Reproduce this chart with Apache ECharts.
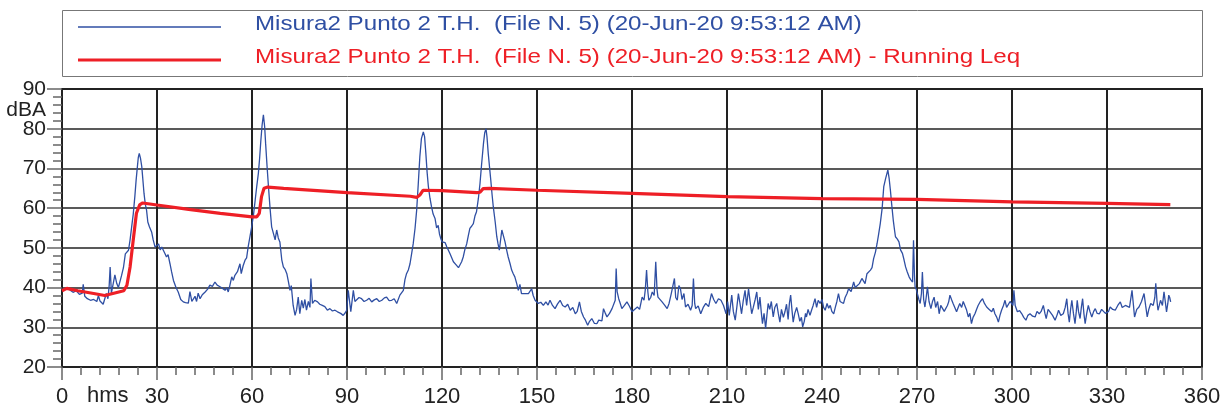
<!DOCTYPE html>
<html>
<head>
<meta charset="utf-8">
<script src="https://cdn.jsdelivr.net/npm/echarts@6/dist/echarts.min.js"></script>
<style>
  html, body { margin: 0; padding: 0; background: #ffffff; }
  #chart { width: 1227px; height: 415px; }
</style>
</head>
<body>
<div id="chart"></div>
<script>
// Series labels
const seriesNames = [
  'Misura2 Punto 2 T.H.  (File N. 5) (20-Jun-20 9:53:12 AM)',
  'Misura2 Punto 2 T.H.  (File N. 5) (20-Jun-20 9:53:12 AM) - Running Leq'
];

// Axis ranges / tick steps
const timeRange = [0, 360, 30];   // seconds: min, max, step
const levelRange = [20, 90, 10];  // dBA: min, max, step
const timeUnit = 'hms';
const levelUnit = 'dBA';

// Instantaneous sound level, [time s, dBA]
const levelTrace = [
  [0,39.5],[0.6,39.9],[1,39.8],[1.6,40.2],[2,40.0],[2.5,39.4],[3,39.3],[3.5,38.8],[4,38.6],[4.5,39.2],[5,38.9],[5.5,38.3],[6,38.0],[6.4,38.6],[6.7,40.8],[7.2,37.8],[7.6,38.2],[8,37.2],[8.5,37.6],[9,36.8],[9.5,37.3],[10,37.0],[10.5,36.7],[11,36.5],[11.5,38.0],[12,36.6],[12.5,36.2],[13,35.8],[13.6,36.3],[14,38.5],[14.5,37.2],[14.9,40.5],[15.2,45.2],[15.6,38.6],[16.2,39.0],[16.7,43.2],[17.3,41.0],[17.8,40.0],[18.3,39.5],[18.8,43.0],[19.4,45.0],
  [20,48.5],[20.5,48.0],[21,49.4],[21.5,52.0],[22,55.3],[22.5,58.5],[23,62.9],[23.4,67.0],[23.8,70.4],[24.1,72.8],[24.4,73.8],[24.8,72.5],[25.2,70.4],[25.9,63.7],[26.3,61.0],[26.7,59.5],[27.1,56.5],[27.6,55.3],[28.3,54.0],[28.8,52.0],[29.4,50.2],[29.9,49.8],[30.5,51.0],[31,49.5],[31.5,50.2],[32,49.8],[32.5,48.6],[33,47.7],[33.5,48.3],[34.1,46.0],[34.6,44.0],[35.2,41.8],[36,40.0],[36.7,38.9],[37.5,37.0],[38.3,36.4],[39,36.2],[39.9,36.1],[40.4,39.0],[41,36.5],[41.5,36.4],[42,37.8],[42.5,36.5],[43,38.6],[43.6,37.2],[44.3,38.2],[45.2,38.9],[46,39.6],[46.7,40.6],[47.5,40.3],[48.3,41.4],[49,40.6],[49.9,40.2],[50.7,39.8],[51.5,39.3],[52,40.0],[52.5,38.9],[53,40.5],[53.6,42.7],[54.1,41.8],[54.6,43.1],[55.4,44.0],[56.2,46.0],[56.6,43.5],[57.2,45.5],[57.8,46.9],[58.3,47.5],[58.8,50.3],[59.4,53.0],[59.9,55.3],
  [60.5,58.5],[61,62.0],[61.5,65.5],[62,68.7],[62.4,72.5],[62.8,77.1],[63.2,81.0],[63.6,83.5],[64,80.5],[64.3,76.3],[64.8,70.0],[65.2,65.4],[65.7,60.0],[66.2,55.3],[66.8,53.5],[67.3,52.0],[67.8,54.5],[68.3,52.5],[68.8,51.5],[69.4,47.0],[69.9,45.2],[70.5,44.5],[71,43.5],[71.5,41.5],[72,39.3],[72.4,40.5],[73,35.5],[73.6,33.0],[74.1,34.5],[74.6,37.6],[75.1,33.4],[75.7,36.8],[76.2,34.8],[76.7,37.0],[77.2,34.3],[77.8,36.5],[78.3,35.0],[78.6,42.3],[79.1,36.0],[79.8,36.8],[80.7,36.4],[81.4,35.8],[82.2,35.5],[83,35.2],[83.8,34.3],[84.6,34.7],[85.4,34.1],[86.2,34.3],[87,33.9],[88,33.5],[88.8,33.0],[89.4,33.6],[89.9,34.3],
  [90.4,39.3],[91.2,33.9],[92,39.3],[92.5,36.5],[93,36.0],[93.8,37.5],[94.6,37.2],[95.4,36.5],[96.2,36.8],[97,37.3],[97.8,36.4],[98.6,36.9],[99.4,37.2],[100.2,36.5],[101,36.8],[101.8,37.4],[102.5,37.6],[103.3,36.7],[104.1,36.8],[104.9,37.2],[105.7,36.0],[106.7,38.1],[107.8,39.3],[108.3,42.0],[108.8,43.5],[109.4,44.5],[109.9,46.0],[110.4,48.5],[110.9,51.0],[111.5,55.0],[112,59.5],[112.5,66.0],[113,72.9],[113.5,77.5],[114.1,79.2],[114.5,78.0],[114.9,73.8],[115.3,69.0],[115.7,65.4],[116.2,62.5],[116.7,60.3],[117.2,58.5],[117.8,57.4],[118.3,55.0],[118.8,55.7],[119.2,53.5],[119.6,52.4],
  [120,51.5],[120.4,51.0],[121,51.3],[121.5,50.3],[122.5,48.6],[123.6,46.5],[124.6,45.6],[125.2,45.0],[125.7,44.8],[126.2,46.5],[126.7,47.7],[127.2,49.5],[127.8,51.0],[128.3,53.0],[128.8,54.9],[129.4,55.5],[129.9,56.1],[130.4,58.0],[130.9,59.1],[131.5,62.5],[132,66.2],[132.5,71.0],[133.1,76.3],[133.5,79.0],[133.9,80.0],[134.2,78.0],[134.6,73.8],[135.4,67.1],[135.8,63.5],[136.2,60.3],[136.8,56.5],[137.3,52.8],[137.7,51.0],[138.1,49.4],[138.5,52.0],[138.9,54.5],[139.4,53.0],[139.9,51.5],[140.4,49.5],[140.9,47.7],[141.5,46.0],[142,44.4],[142.5,43.5],[143,42.7],[143.6,41.0],[144.1,39.3],[144.6,40.8],[145.1,38.5],[145.7,38.1],[146.5,38.5],[147.3,38.5],[147.8,38.0],[148.3,39.7],[148.8,38.0],[149.4,36.8],
  [150,37.2],[150.4,36.0],[151.2,36.3],[152,35.5],[152.8,36.4],[153.5,35.6],[154.1,36.8],[154.9,35.5],[155.7,34.7],[156.5,35.9],[157.3,36.8],[158.1,35.5],[158.9,35.1],[159.7,35.8],[160.5,34.3],[161.3,35.0],[162.1,33.4],[162.7,34.0],[163.4,36.4],[164,34.0],[164.7,32.6],[165.3,31.8],[166,30.5],[166.6,31.5],[167.3,32.2],[168.1,31.0],[168.9,30.9],[169.5,31.8],[170,32.2],[170.5,31.6],[171,34.7],[171.6,33.5],[172.1,32.6],[172.9,33.5],[173.7,34.7],[174.3,35.0],[174.7,36.8],[175,44.8],[175.3,39.0],[175.8,37.2],[176.3,36.0],[176.8,34.7],[177.6,35.5],[178.4,36.4],[179.2,35.3],
  [180,33.9],[180.8,34.5],[181.7,35.1],[182.4,34.5],[183.2,37.6],[183.8,36.8],[184.2,39.5],[184.6,44.4],[185,39.0],[185.3,36.8],[185.9,37.5],[186.4,38.9],[187,38.0],[187.5,46.5],[187.9,39.5],[188.2,37.6],[188.8,38.0],[189.5,36.4],[190.3,35.6],[191.1,34.7],[191.7,36.0],[192.4,38.5],[193,38.0],[193.4,42.3],[193.8,37.5],[194.3,36.8],[194.8,40.5],[195.3,39.7],[195.8,37.0],[196.4,38.5],[196.9,35.1],[197.7,35.8],[198.5,34.3],[199,35.5],[199.4,42.3],[199.8,36.0],[200.1,34.7],[200.9,35.4],[201.7,33.4],[202.5,35.0],[203.3,36.0],[204.2,35.2],[205.1,38.5],[205.8,37.0],[206.5,36.0],[207.3,37.2],[208.1,36.8],[208.9,35.5],[209.7,33.4],
  [210.2,36.5],[210.7,33.0],[211.1,35.5],[211.5,38.1],[212,34.0],[212.6,31.8],[213.1,35.0],[213.6,38.5],[214.1,36.0],[214.6,33.4],[215.1,36.5],[215.7,39.3],[216.2,35.5],[216.8,39.7],[217.3,36.5],[217.8,33.4],[218.3,35.0],[218.9,37.0],[219.4,38.9],[219.9,34.5],[220.4,37.6],[220.8,34.0],[221.2,30.9],[221.7,33.5],[222.2,29.7],[222.6,33.0],[223,36.0],[223.5,34.5],[224,36.5],[224.6,32.6],[225.1,35.0],[225.7,36.0],[226.2,33.5],[226.7,31.3],[227.2,34.5],[227.8,32.5],[228.3,33.9],[228.8,35.8],[229.3,32.0],[229.7,36.0],[230.1,38.1],[230.5,34.5],[230.9,31.3],[231.4,33.5],[232,35.0],[232.5,33.4],[233,31.5],[233.5,32.5],[233.9,30.1],[234.4,31.5],[234.8,33.5],[235.1,32.6],[235.6,34.5],[236.2,33.0],[236.7,34.3],[237.2,35.5],[237.8,37.2],[238.3,35.0],[238.8,36.8],[239.4,36.0],
  [240,37.0],[240.5,35.0],[241,34.3],[241.6,36.0],[242.1,34.8],[242.6,35.5],[243.1,34.0],[243.7,33.4],[244.2,35.0],[244.7,36.5],[245.2,38.5],[245.7,36.5],[246.3,37.0],[246.8,36.0],[247.3,37.5],[247.9,38.5],[248.4,39.7],[249.2,39.0],[250,41.4],[250.5,40.0],[251.1,40.2],[251.8,41.0],[252.6,42.3],[253.2,42.0],[253.6,41.0],[254.2,43.5],[254.8,43.0],[255.3,44.4],[255.8,45.0],[256.3,47.3],[256.9,49.0],[257.4,51.1],[257.9,53.5],[258.4,56.1],[259,60.0],[259.5,65.4],[260.1,67.5],[260.8,69.6],[261.2,67.5],[261.6,64.5],[262,61.0],[262.5,57.0],[262.9,54.5],[263.2,52.8],[263.8,52.2],[264.3,51.5],[264.8,49.5],[265.4,48.6],[265.9,47.0],[266.4,45.2],[266.9,44.0],[267.5,42.7],[268,42.0],[268.6,41.4],[268.9,51.9],[269.2,43.0],[269.4,40.2],[269.8,39.5],
  [270.1,38.5],[270.6,37.0],[271,36.0],[271.4,38.5],[271.7,43.9],[272.1,37.0],[272.5,35.1],[272.9,37.5],[273.3,40.2],[273.8,36.5],[274.4,34.7],[274.9,36.5],[275.4,37.6],[275.9,35.0],[276.5,36.5],[277,33.4],[277.5,35.5],[278.1,36.0],[278.6,34.0],[279.1,33.9],[279.6,35.5],[280,36.4],[280.4,38.1],[280.9,37.0],[281.4,36.0],[281.9,35.5],[282.5,33.9],[283,35.0],[283.5,36.0],[284.1,35.0],[284.6,36.5],[285.1,36.4],[285.6,34.5],[286.2,32.6],[286.7,33.5],[287.2,30.9],[287.7,32.5],[288.3,33.4],[288.8,34.5],[289.3,35.5],[290,36.5],[290.7,37.2],[291.3,36.0],[292,35.1],[292.8,34.5],[293.6,33.9],[294.1,34.8],[294.6,33.4],[295.2,32.5],[295.7,31.3],[296.2,33.0],[296.7,34.3],[297.3,35.5],[297.8,36.8],[298.3,35.0],[298.8,34.7],[299.4,36.5],[299.9,36.0],
  [300.3,35.5],[300.6,39.3],[301,35.5],[301.7,33.9],[302.4,34.2],[303.1,33.4],[303.7,32.5],[304.4,31.8],[305,33.0],[305.7,33.4],[306.5,32.8],[307.3,32.6],[307.9,34.0],[308.6,33.4],[309.2,34.0],[309.9,35.5],[310.4,33.5],[310.8,32.2],[311.4,34.5],[312,33.9],[312.8,33.0],[313.6,31.8],[314.2,33.0],[314.7,34.3],[315.4,33.0],[316.2,33.4],[316.8,35.0],[317.3,37.2],[317.7,33.5],[318.1,31.3],[318.5,34.5],[318.9,36.8],[319.4,33.5],[319.9,30.9],[320.3,34.0],[320.6,36.8],[321,34.0],[321.5,32.2],[321.9,35.0],[322.3,37.2],[322.7,33.5],[323.1,30.9],[323.6,33.5],[324.1,35.5],[324.6,34.0],[325.2,32.6],[325.8,34.0],[326.3,34.7],[326.9,33.5],[327.6,33.4],[328.3,34.5],[328.9,34.3],[329.5,33.5],
  [330,33.0],[330.5,34.0],[331,35.1],[331.8,34.5],[332.6,34.3],[333.4,35.5],[334.2,36.4],[334.8,35.0],[335.3,34.7],[335.8,35.5],[336.3,36.0],[337.1,35.0],[337.9,39.3],[338.3,36.0],[338.7,32.6],[339.4,34.5],[340.1,35.1],[340.9,36.5],[341.7,38.5],[342.2,35.5],[342.7,32.6],[343.2,34.5],[343.8,36.0],[344.6,35.5],[345.1,37.5],[345.4,41.1],[345.8,36.5],[346.1,34.3],[346.5,35.5],[346.9,36.8],[347.5,35.5],[348,38.9],[348.4,36.5],[348.8,33.9],[349.2,36.0],[349.5,38.1],[349.8,37.5],[350.1,36.4]
];

// Running equivalent level, [time s, dBA]
const runningLeq = [
  [0,39.2],[1.5,39.8],[5,39.2],[10,38.5],[13.5,38.0],[17,38.7],[19.5,39.2],[20.5,40.6],[21.5,45.2],[22.5,52.0],[23.5,58.7],[24.5,60.8],[25.5,61.3],
  [30,60.8],[40,59.7],[50,58.7],[60,57.8],[61.5,57.8],[62.3,58.7],[63,62.9],[63.8,65.0],[65,65.3],[70,65.0],
  [90,63.9],[110,63.0],[112,62.7],[113,63.3],[114,64.5],[120,64.4],[131,63.9],[132,64.0],[133,64.9],[135,65.0],
  [150,64.5],[180,63.7],[210,62.9],[240,62.4],[270,62.2],[300,61.6],[330,61.2],[350,60.9]
];

const seriesColors = ['#2f4fa3', '#ee1f26'];
const seriesWidths = [1.3, 3.2];
const ink = '#222222';
const fontFamily = '"Liberation Sans", Arial, sans-serif';

// Key box: sample strokes on the left, labels to their right
const keyRows = [27, 60];
const keyGraphics = [{
  type: 'rect', z: 1,
  shape: { x: 62.5, y: 10.5, width: 1140, height: 66 },
  style: { fill: '#ffffff', stroke: '#777', lineWidth: 1 }
}];
seriesNames.forEach(function (name, i) {
  keyGraphics.push({
    type: 'line', z: 2,
    shape: { x1: 78, y1: keyRows[i], x2: 221, y2: keyRows[i] },
    style: { stroke: seriesColors[i], lineWidth: seriesWidths[i] }
  });
  keyGraphics.push({
    type: 'text', z: 2, x: 255, y: keyRows[i] - 2.5, scaleX: 1.15,
    style: {
      text: name, fill: seriesColors[i],
      font: '21px ' + fontFamily, textVerticalAlign: 'middle'
    }
  });
});

const chart = echarts.init(document.getElementById('chart'), null, { renderer: 'canvas' });

chart.setOption({
  animation: false,
  backgroundColor: '#ffffff',
  textStyle: { fontFamily: fontFamily },
  grid: {
    left: 62, top: 89, right: 25, bottom: 48,
    show: true, borderColor: ink, borderWidth: 2, backgroundColor: 'transparent'
  },
  xAxis: {
    type: 'value',
    min: timeRange[0], max: timeRange[1], interval: timeRange[2],
    axisLine: { show: true, lineStyle: { color: ink, width: 2 } },
    axisTick: { show: true, length: 13, lineStyle: { color: '#666', width: 1.5 } },
    minorTick: { show: true, splitNumber: 5, length: 8, lineStyle: { color: '#666', width: 1.5 } },
    splitLine: { show: true, lineStyle: { color: ink, width: 2 } },
    axisLabel: { color: ink, fontSize: 22, margin: 19, fontFamily: fontFamily }
  },
  yAxis: {
    type: 'value',
    min: levelRange[0], max: levelRange[1], interval: levelRange[2],
    axisLine: { show: true, lineStyle: { color: ink, width: 2 } },
    axisTick: { show: true, length: 15, lineStyle: { color: '#666', width: 1.5 } },
    minorTick: { show: true, splitNumber: 5, length: 9, lineStyle: { color: '#666', width: 1.5 } },
    splitLine: { show: true, lineStyle: { color: ink, width: 1.6 } },
    axisLabel: { color: ink, fontSize: 21, margin: 16, fontFamily: fontFamily }
  },
  graphic: keyGraphics.concat([
    {
      type: 'text', x: 87, y: 396,
      style: { text: timeUnit, fill: ink, font: '22px ' + fontFamily, textVerticalAlign: 'middle' }
    },
    {
      type: 'text', x: 46, y: 110,
      style: { text: levelUnit, fill: ink, font: '21px ' + fontFamily, textAlign: 'right', textVerticalAlign: 'middle' }
    }
  ]),
  series: [
    {
      name: seriesNames[0], type: 'line', data: levelTrace,
      showSymbol: false, symbol: 'none',
      lineStyle: { color: seriesColors[0], width: seriesWidths[0] }, z: 3
    },
    {
      name: seriesNames[1], type: 'line', data: runningLeq,
      showSymbol: false, symbol: 'none',
      lineStyle: { color: seriesColors[1], width: seriesWidths[1] }, z: 4
    }
  ]
});
</script>
</body>
</html>
